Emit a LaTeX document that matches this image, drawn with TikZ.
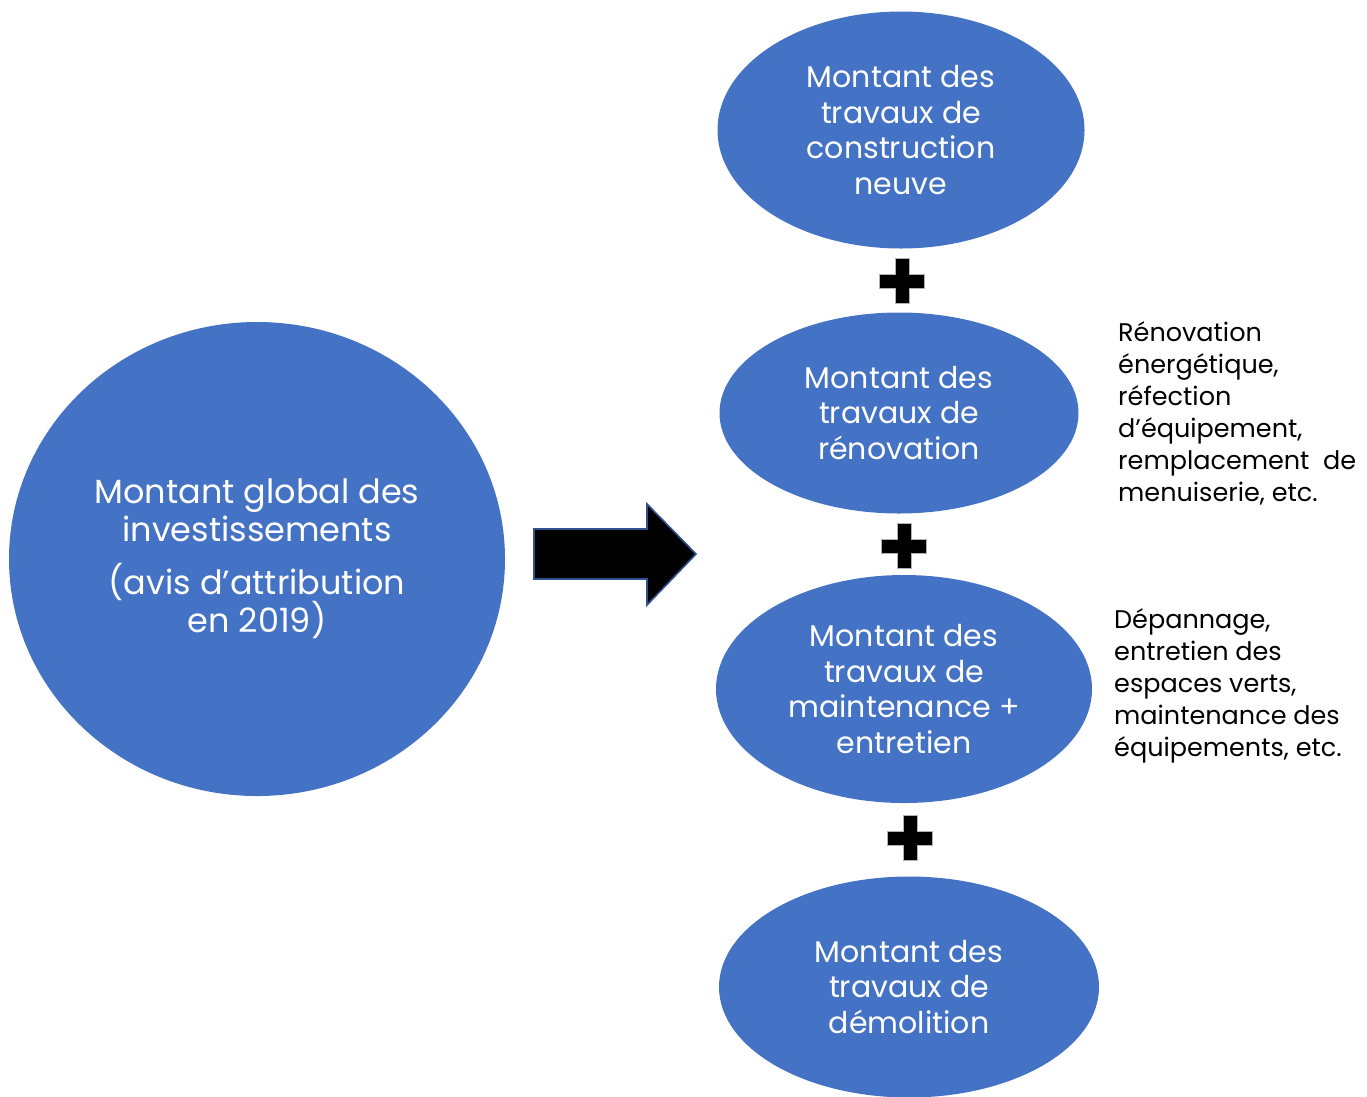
\documentclass[tikz,border=0pt]{standalone}
\usepackage{fontspec}
\setmainfont{Poppins}
\usetikzlibrary{shapes.geometric}
\definecolor{eblue}{HTML}{4472C4}
\definecolor{edge}{HTML}{2F528F}
\tikzset{
  bubble/.style={ellipse, fill=eblue, draw=none, inner sep=0pt, text=white, align=center,
    font=\fontsize{30}{35.5}\selectfont},
  note/.style={anchor=north west, inner sep=0pt, align=left, text=black,
    font=\fontsize{25.5}{32}\selectfont},
  plusmark/.style={fill=black, draw=gray!60, line width=0.4pt}
}
\newcommand{\plussign}[2]{%
  \path[plusmark] (#1-7,#2-22.5) -- (#1+7,#2-22.5) -- (#1+7,#2-7) -- (#1+22.5,#2-7)
   -- (#1+22.5,#2+7) -- (#1+7,#2+7) -- (#1+7,#2+22.5) -- (#1-7,#2+22.5) -- (#1-7,#2+7)
   -- (#1-22.5,#2+7) -- (#1-22.5,#2-7) -- (#1-7,#2-7) -- cycle;}
\begin{document}
\begin{tikzpicture}[x=1pt,y=-1pt]
\useasboundingbox (0,0) rectangle (1367,1096);
\node[bubble, minimum width=496pt, minimum height=474pt,
  font=\fontsize{33.5}{38}\selectfont] (global) at (257,559)
  {Montant global des\\investissements\\[15pt](avis d’attribution\\en 2019)};
\node[bubble, minimum width=367pt, minimum height=237pt] (neuve) at (901,130)
  {Montant des\\travaux de\\construction\\neuve};
\node[bubble, minimum width=359pt, minimum height=201pt] (renov) at (899,413)
  {Montant des\\travaux de\\rénovation};
\node[bubble, minimum width=376pt, minimum height=228pt] (maint) at (904,689)
  {Montant des\\travaux de\\maintenance +\\entretien};
\node[bubble, minimum width=380pt, minimum height=221pt] (demol) at (909,987)
  {Montant des\\travaux de\\démolition};
\plussign{902}{281}
\plussign{904}{546}
\plussign{910}{838}
\path[fill=black, draw=edge, line width=1.6pt, line join=miter]
  (534,529) -- (647,529) -- (647,504) -- (696,554) -- (647,605) -- (647,579) -- (534,579) -- cycle;
\node[note] (renovnote) at (1118,321)
  {Rénovation\\énergétique,\\réfection\\d’équipement,\\remplacement\ \ de\\menuiserie, etc.};
\node[note] (maintnote) at (1114,608)
  {Dépannage,\\entretien des\\espaces verts,\\maintenance des\\équipements, etc.};
\end{tikzpicture}
\end{document}
